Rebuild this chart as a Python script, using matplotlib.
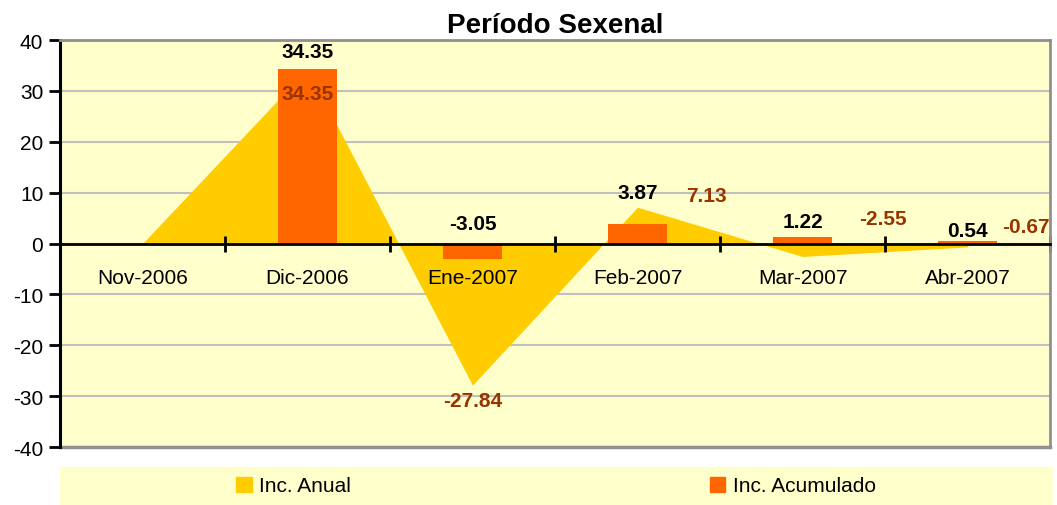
import numpy as np
import matplotlib
matplotlib.use('Agg')
import matplotlib.pyplot as plt
from matplotlib.patches import Rectangle, Patch
from matplotlib.lines import Line2D

plt.rcParams['font.family'] = ['Liberation Sans', 'DejaVu Sans']
plt.rcParams['axes.unicode_minus'] = False

meses = ['Nov-2006', 'Dic-2006', 'Ene-2007', 'Feb-2007', 'Mar-2007', 'Abr-2007']
inc_anual = [0, 34.35, -27.84, 7.13, -2.55, -0.67]
inc_acumulado = [0, 34.35, -3.05, 3.87, 1.22, 0.54]

# label offsets (pixels) as placed in the original chart
off_anual = [None, (0, -25), (0, -15), (69, 12), (80, 38), (58, 20)]
off_acum = [None, (0, 17), (0, 20), (0, 31), (0, 16), (0, 10)]

bg = '#FFFFCC'
c_area = '#FFCC00'
c_bar = '#FF6600'
c_lab = '#993300'

fig = plt.figure(figsize=(10.57, 5.06), dpi=100)
ax = fig.add_axes([60/1057, 1-448/506, 990/1057, 407/506])
ax.set_facecolor(bg)

ax.set_xlim(-0.5, 5.5)
ax.set_ylim(-40, 40)
ax.set_yticks(np.arange(-40, 41, 10))
# grid lines drawn under the area so it hides them
for yt in ax.get_yticks():
    ax.axhline(yt, color='#C0C0C0', lw=1.5, zorder=0.5)

x = np.arange(len(meses))
ax.fill_between(x, inc_anual, 0, color=c_area, lw=0, zorder=1, label='Inc. Anual')
ax.bar(x[1:], inc_acumulado[1:], width=0.355, color=c_bar, zorder=1.5, label='Inc. Acumulado')

for i in range(1, len(meses)):
    ax.annotate(f'{inc_acumulado[i]:.2f}', (x[i], max(inc_acumulado[i], 0)),
                xytext=off_acum[i], textcoords='offset pixels', ha='center', va='center',
                fontsize=15, fontweight='bold', color='black', zorder=5)
    ax.annotate(f'{inc_anual[i]:.2f}', (x[i], inc_anual[i]),
                xytext=off_anual[i], textcoords='offset pixels', ha='center', va='center',
                fontsize=15, fontweight='bold', color=c_lab, zorder=5)

ax.set_xticks(x)
ax.set_xticklabels(meses)
ax.set_xticks(np.arange(-0.5, 6, 1), minor=True)
ax.tick_params(axis='x', which='major', length=0, pad=18, labelsize=15)
ax.tick_params(axis='x', which='minor', direction='inout', length=12, width=2)
ax.tick_params(axis='y', length=8, width=2, pad=4, labelsize=15)

ax.spines['bottom'].set_position(('data', 0))
ax.spines['bottom'].set_linewidth(2)
ax.spines['left'].set_linewidth(2.2)
for s in ['top', 'right']:
    ax.spines[s].set_color('#909090')
    ax.spines[s].set_linewidth(2)
ax.add_line(Line2D([0, 1], [0, 0], transform=ax.transAxes, color='#909090', lw=2.5, clip_on=False, zorder=0.6))

ax.set_title('Período Sexenal', fontsize=20, fontweight='bold', pad=6)

fig.patches.append(Rectangle((60/1057, 0), 992/1057, 38/506, transform=fig.transFigure,
                             color=bg, zorder=0))
handles = [Patch(color=c_area), Patch(color=c_bar)]
fig.legend(handles, ['Inc. Anual', 'Inc. Acumulado'], ncol=2, loc='center',
           bbox_to_anchor=(556/1057, 1-487/506), frameon=False, fontsize=15,
           handlelength=0.75, handleheight=0.75, handletextpad=0.35,
           columnspacing=17.2, borderpad=0)

fig.savefig('out.png', dpi=100)
